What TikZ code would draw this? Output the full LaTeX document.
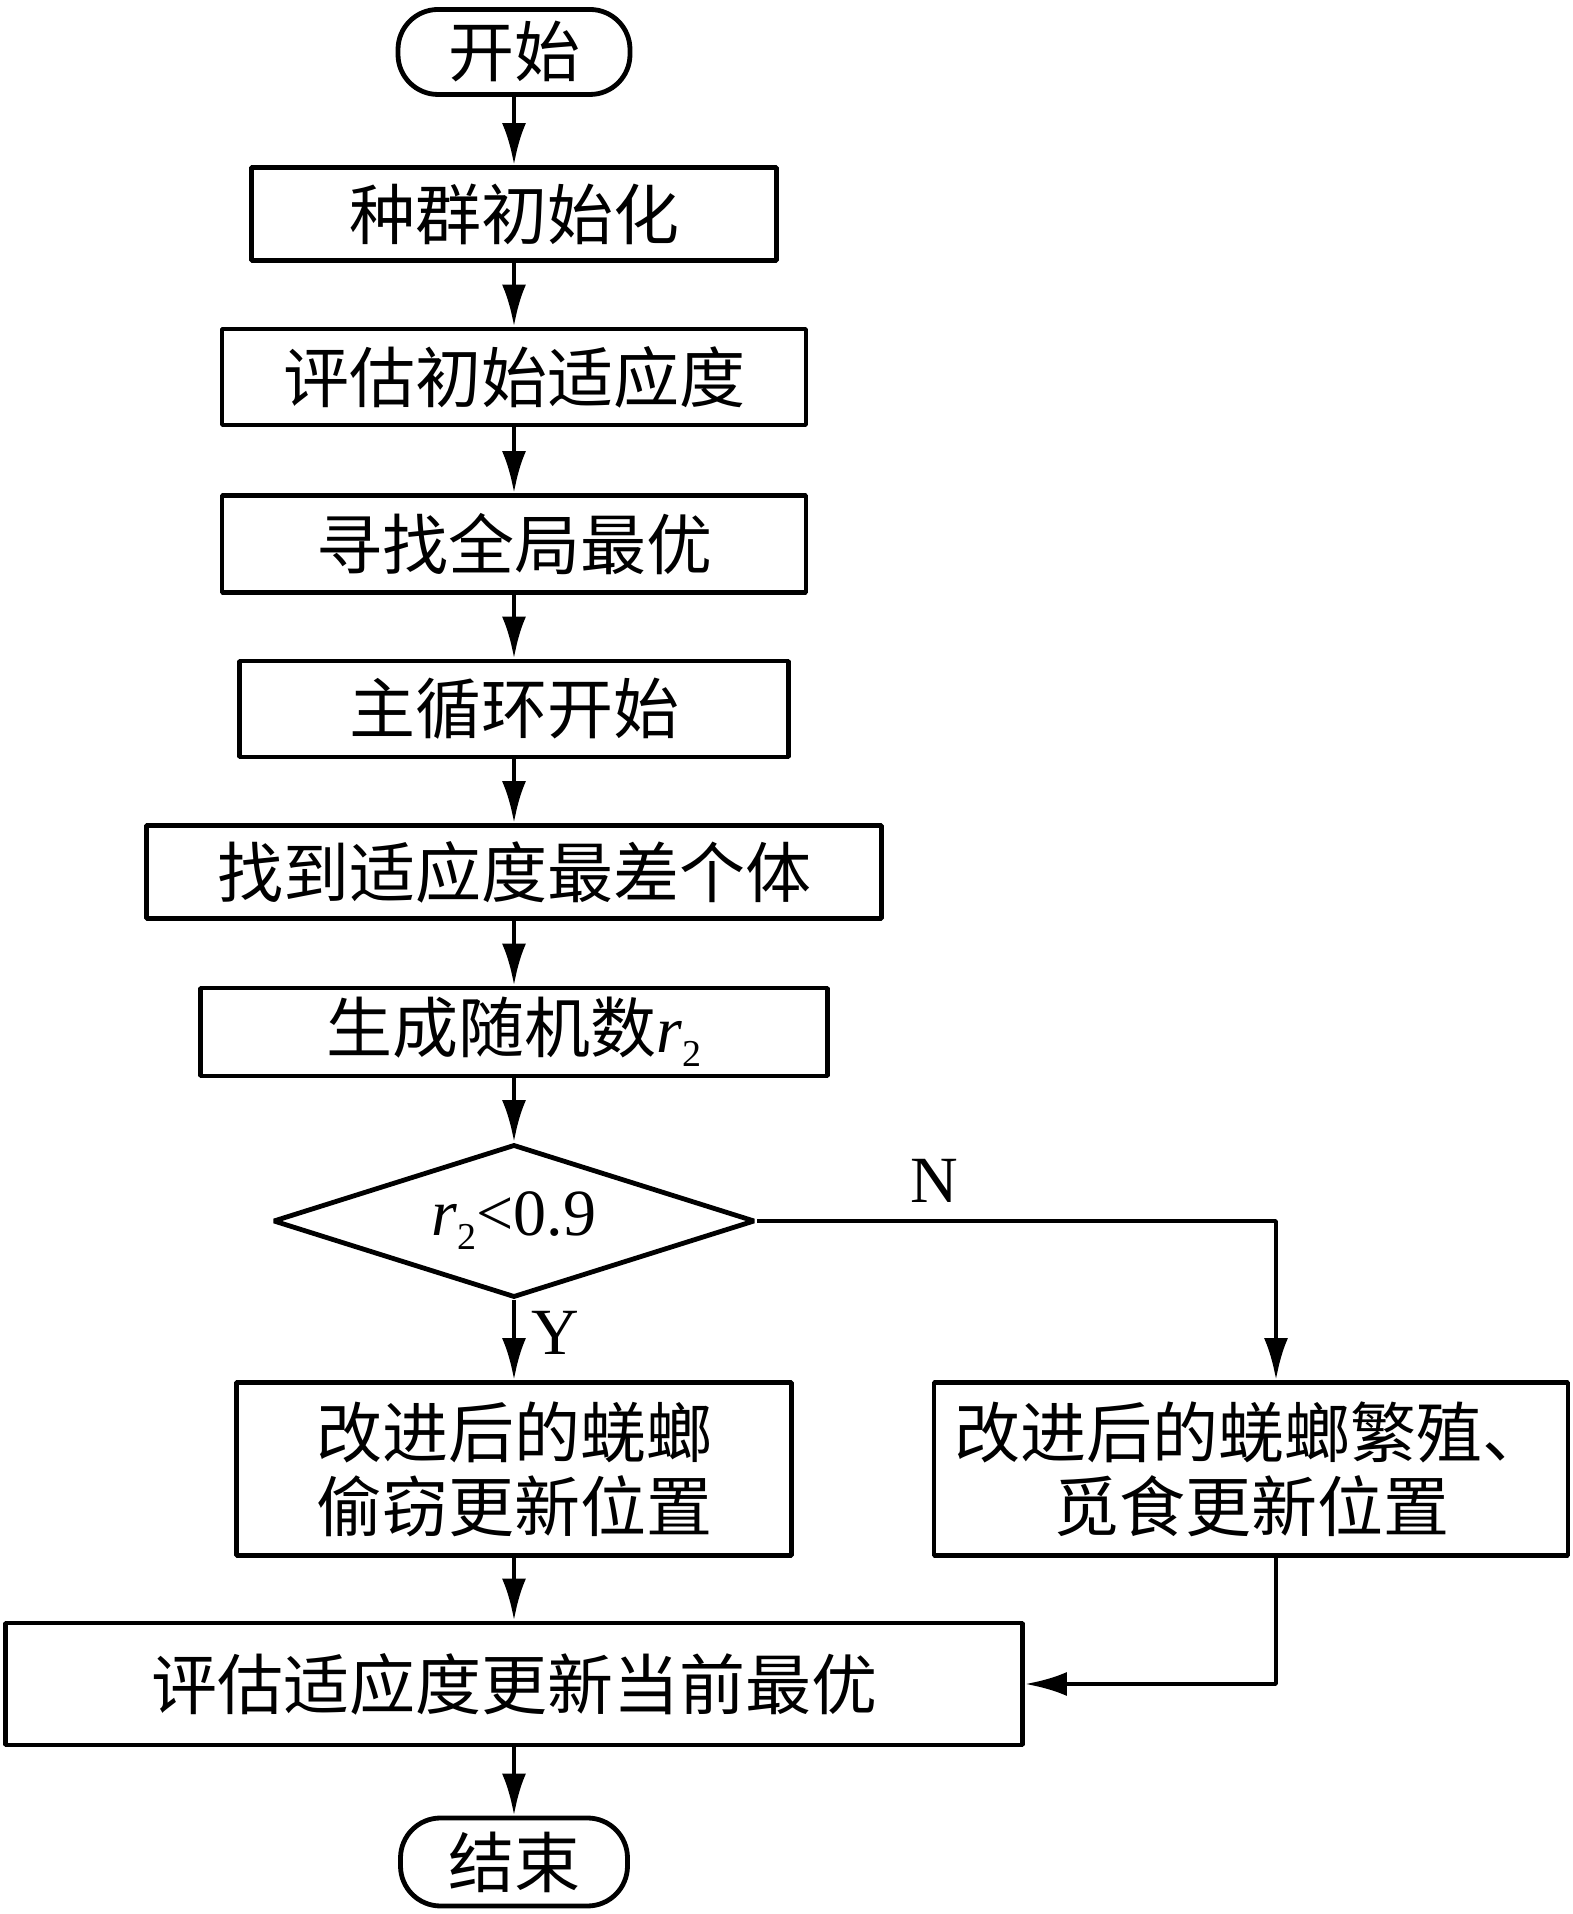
\documentclass[tikz,border=0pt]{standalone}
\usepackage{fontspec}
\setmainfont{Liberation Serif}
\newfontfamily\cjk{Noto Sans CJK SC}
\newcommand{\subtwo}{{\rmfamily\fontsize{19bp}{19bp}\selectfont\raisebox{-7bp}{2}}}
\usetikzlibrary{arrows.meta,shapes.geometric}
\begin{document}
\begin{tikzpicture}[>={Latex[length=21bp,width=12bp]},line join=bevel,line width=2.4bp,
  every node/.style={font=\cjk\fontsize{33bp}{37bp}\selectfont,align=center},
  box/.style={draw,rectangle,inner sep=0pt},
  term/.style={draw,rectangle,rounded corners=20bp,inner sep=0pt},
  test/.style={draw,diamond,aspect=3.15,inner sep=0pt},
  yn/.style={font=\fontsize{33bp}{37bp}\selectfont,inner sep=0pt},]
\useasboundingbox (0bp,0bp) rectangle (786.5bp,957bp);
%%
\node (start) at (257bp,931bp) [term,minimum width=116bp,minimum height=42.5bp] {开始};
  \node (init) at (257bp,850bp) [box,minimum width=262.5bp,minimum height=46.5bp] {种群初始化};
  \node (evalinit) at (257bp,768.5bp) [box,minimum width=292bp,minimum height=48bp] {评估初始适应度};
  \node (gbest) at (257bp,685bp) [box,minimum width=292bp,minimum height=48.5bp] {寻找全局最优};
  \node (loop) at (257bp,602.5bp) [box,minimum width=274.5bp,minimum height=48bp] {主循环开始};
  \node (worst) at (257bp,521bp) [box,minimum width=367.5bp,minimum height=46.5bp] {找到适应度最差个体};
  \node (rand) at (257bp,441bp) [box,minimum width=313.5bp,minimum height=44bp] {生成随机数{\rmfamily\itshape r}\subtwo};
  \node (cond) at (257bp,346.5bp) [test,minimum width=241bp,minimum height=76.5bp] {\rmfamily{\itshape r}\subtwo<0.9};
  \node (steal) at (257bp,222.5bp) [box,minimum width=277.5bp,minimum height=86.5bp] {改进后的蜣螂\\偷窃更新位置};
  \node (breed) at (625.5bp,222.5bp) [box,minimum width=317bp,minimum height=86.5bp] {改进后的蜣螂繁殖、\\觅食更新位置};
  \node (update) at (257bp,115bp) [box,minimum width=508.5bp,minimum height=61bp] {评估适应度更新当前最优};
  \node (stop) at (257bp,26bp) [term,minimum width=113.5bp,minimum height=44bp] {结束};
  \node (nlabel) at (467bp,366.5bp) [yn] {N};
  \node (ylabel) at (277.5bp,290.5bp) [yn] {Y};
  \coordinate (nturn) at (638bp,346.5bp);
%
  \draw [black,->] (start) -- (init);
  \draw [black,->] (init) -- (evalinit);
  \draw [black,->] (evalinit) -- (gbest);
  \draw [black,->] (gbest) -- (loop);
  \draw [black,->] (loop) -- (worst);
  \draw [black,->] (worst) -- (rand);
  \draw [black,->] (rand) -- (cond);
  \draw [black,->] (cond) -- (steal);
  \draw [black,->] (cond.east) -- (nturn) -- (nturn |- breed.north);
  \draw [black,->] (steal) -- (update);
  \draw [black,->] (nturn |- breed.south) |- (update.east);
  \draw [black,->] (update) -- (stop);
%
\end{tikzpicture}
\end{document}
